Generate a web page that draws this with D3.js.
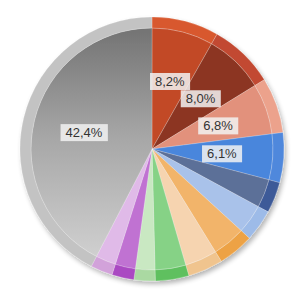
<!DOCTYPE html>
<html lang="en">
<head>
  <meta charset="UTF-8">
  <title>Pie</title>
  <style>
    body { margin: 0; background: #fff; }
    svg { display: block; }
    .lbl text { font-family: Arial, "Liberation Sans", sans-serif; font-size: 13px; fill: #333; }
  </style>
</head>
<body>
  <svg id="viz-area" width="302" height="291"></svg>

  <script src="https://d3js.org/d3.v7.min.js"></script>
  <script>
    let names = ["a", "b", "c", "d", "e", "f", "g", "h", "i", "j", "k", "l", "m"];
    let values = [8.2, 8.0, 6.8, 6.1, 3.8, 3.9, 4.4, 4.3, 4.1, 2.6, 2.7, 2.7, 42.4];
    let innerColors = ["#c24a28", "#8c3520", "#e2917c", "#4a86dc", "#5c6f98", "#a9c2ea",
                       "#f2b46a", "#f6d4b0", "#86d286", "#c9e8c2", "#c072d2", "#e0bae8", "#a8a8a8"];
    let ringColors = ["#d8592f", "#c24a30", "#eca28c", "#5088dc", "#3d5a98", "#9dbbe8",
                      "#eda244", "#f0c48e", "#5ec05e", "#aad9a2", "#aa4ac2", "#d2a2da", "#c3c3c3"];

    let fmt = d3.formatLocale({decimal: ",", thousands: ".", grouping: [3], currency: ["", ""]}).format(".1f");

    let cx = 152, cy = 149, R = 132, ringW = 11;
    let svg = d3.select("#viz-area");
    let defs = svg.append("defs");

    let shadow = defs.append("filter").attr("id", "shadow")
      .attr("x", "-10%").attr("y", "-10%").attr("width", "125%").attr("height", "125%");
    shadow.append("feGaussianBlur").attr("in", "SourceAlpha").attr("stdDeviation", 2.5);
    shadow.append("feOffset").attr("dx", 2).attr("dy", 3).attr("result", "off");
    shadow.append("feComponentTransfer").append("feFuncA").attr("type", "linear").attr("slope", 0.3);
    let merge = shadow.append("feMerge");
    merge.append("feMergeNode");
    merge.append("feMergeNode").attr("in", "SourceGraphic");

    // grey slice gets a top-to-bottom shading (coords relative to the pie centre)
    let g = defs.append("linearGradient").attr("id", "greyGrad")
      .attr("gradientUnits", "userSpaceOnUse")
      .attr("x1", 0).attr("y1", -R).attr("x2", 0).attr("y2", R);
    g.append("stop").attr("offset", "0%").attr("stop-color", "#6e6e6e");
    g.append("stop").attr("offset", "45%").attr("stop-color", "#a6a6a6");
    g.append("stop").attr("offset", "100%").attr("stop-color", "#d8d8d8");

    let pie = d3.pie().sort(null).value(d => d)(values);
    let inner = d3.arc().innerRadius(0).outerRadius(R - ringW);
    let ring = d3.arc().innerRadius(R - ringW).outerRadius(R);
    let lblArc = d3.arc().innerRadius(70).outerRadius(70);

    let root = svg.append("g").attr("transform", `translate(${cx},${cy})`);
    let chart = root.append("g").attr("filter", "url(#shadow)");

    chart.selectAll(".slice")
      .data(pie)
      .enter()
      .append("path")
      .attr("class", "slice")
      .attr("d", inner)
      .attr("fill", (d, i) => i === values.length - 1 ? "url(#greyGrad)" : innerColors[i])
      .attr("stroke", "rgba(255,255,255,0.3)")
      .attr("stroke-width", 0.7);

    chart.selectAll(".ring")
      .data(pie)
      .enter()
      .append("path")
      .attr("class", "ring")
      .attr("d", ring)
      .attr("fill", (d, i) => ringColors[i])
      .attr("stroke", "rgba(255,255,255,0.3)")
      .attr("stroke-width", 0.7);

    let lbls = root.selectAll(".lbl")
      .data(pie.filter(d => d.data >= 6))
      .enter()
      .append("g")
      .attr("class", "lbl")
      .attr("transform", d => `translate(${lblArc.centroid(d)})`);

    lbls.append("text")
      .attr("text-anchor", "middle")
      .attr("dy", "0.36em")
      .text(d => fmt(d.data) + "%");

    lbls.each(function() {
      let t = d3.select(this).select("text");
      let b = t.node().getBBox();
      d3.select(this).insert("rect", "text")
        .attr("x", b.x - 5).attr("y", b.y - 1)
        .attr("width", b.width + 10).attr("height", b.height + 2)
        .attr("fill", "#f2f2f2").attr("fill-opacity", 0.85);
    });
  </script>
</body>
</html>
